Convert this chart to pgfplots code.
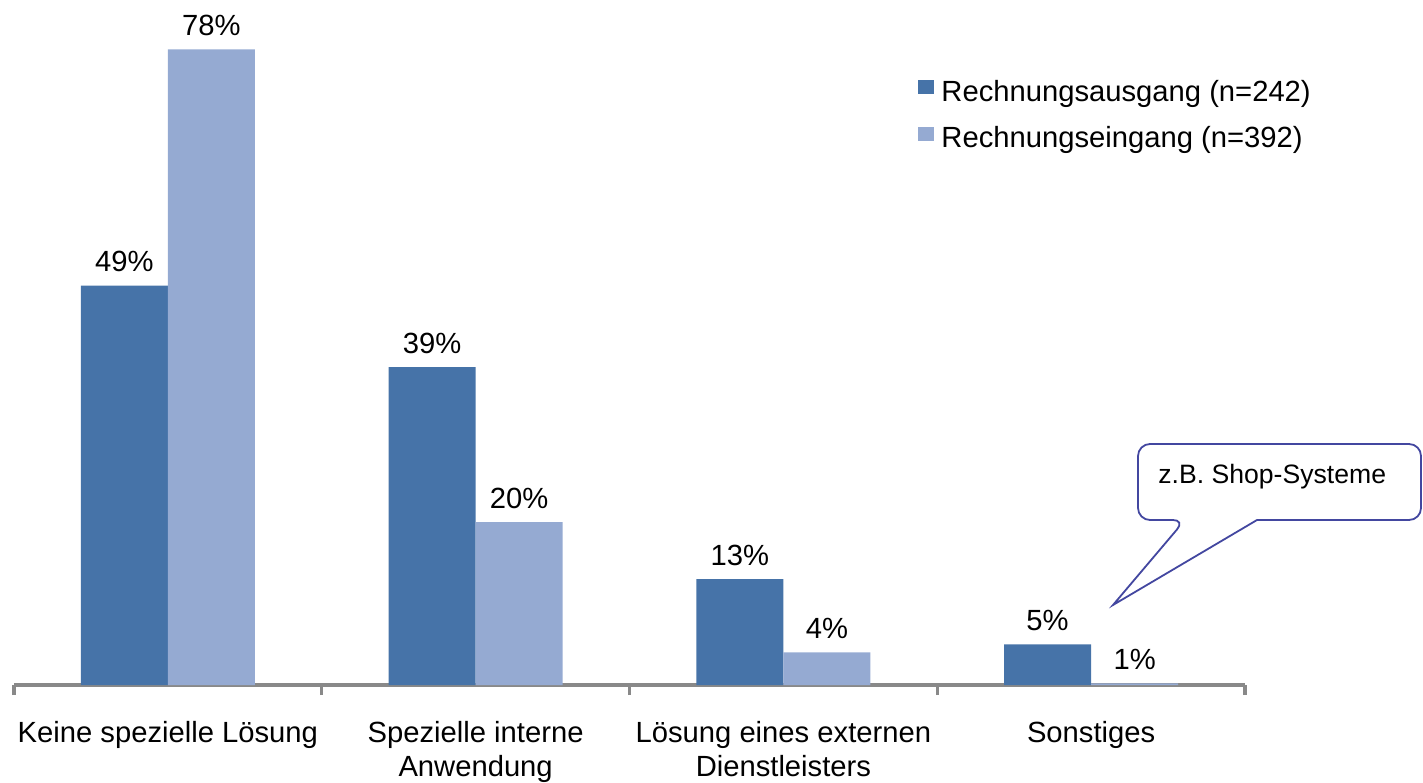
\documentclass[border=0pt]{standalone}
\usepackage{pgfplots}
\pgfplotsset{compat=1.18}
\usepackage{fontspec}
\setmainfont{Liberation Sans}
\definecolor{darkbar}{HTML}{4673A8}
\definecolor{lightbar}{HTML}{95AAD2}
\definecolor{axgrey}{HTML}{898989}
\definecolor{callout}{HTML}{4347A0}
\newcommand{\mainfont}{\fontsize{14.6pt}{17pt}\selectfont}
\begin{document}
\begin{tikzpicture}
\useasboundingbox (0,0) rectangle (711.5pt,391pt);
\begin{axis}[
  at={(7pt,48.5pt)}, anchor=south west,
  scale only axis, width=615.5pt, height=342.3pt,
  xmin=-0.5, xmax=3.5, ymin=0, ymax=84,
  ybar=0pt, bar width=0.283,
  axis x line*=bottom,
  axis y line=none,
  ytick=\empty,
  x axis line style={axgrey, line width=1.9pt, -},
  xtick={-0.5,0.5,1.5,2.5,3.5},
  xticklabels={},
  tick align=outside,
  major tick length=5pt,
  x tick style={axgrey, line width=1.6pt},
  extra x ticks={0,1,2,3},
  extra x tick labels={Keine spezielle Lösung, {Spezielle interne\\Anwendung}, {Lösung eines externen\\Dienstleisters}, Sonstiges},
  extra x tick style={major tick length=0pt, tick style={draw=none}},
  xticklabel style={font=\mainfont, align=center, yshift=-14.5pt},
  nodes near coords,
  point meta=explicit symbolic,
  every node near coord/.append style={font=\mainfont, text=black, yshift=3.3pt},
  legend style={draw=none, fill=none, at={(0.7344,0.8896)}, anchor=north west, inner sep=0pt, font=\mainfont, row sep=7pt},
  legend cell align=left,
  legend image code/.code={\fill[#1,draw=none] (0.5pt,-1pt) rectangle (8.5pt,6pt);},
  clip=false,
]
\addplot[fill=darkbar, draw=none] coordinates {(0,49) [49\%] (1,39) [39\%] (2,13) [13\%] (3,5) [5\%]};
\addplot[fill=lightbar, draw=none] coordinates {(0,78) [78\%] (1,20) [20\%] (2,4) [4\%] (3,0.2) [1\%]};
\legend{\hspace{1.5pt}Rechnungsausgang (n=242), \hspace{1.5pt}Rechnungseingang (n=392)}
\end{axis}
\begin{scope}[shift={(0,391pt)}, x=0.5pt, y=-0.5pt]
\draw[callout, line width=0.9pt, fill=white] (1185,520) -- (1113,605) -- (1257,520) [rounded corners=6pt] -- (1421,520) -- (1421,444) -- (1138,444) -- (1138,520) -- cycle;
\node[anchor=west, inner sep=0pt, font=\fontsize{13.3pt}{16pt}\selectfont] at (1158,477) {z.B. Shop-Systeme};
\end{scope}
\end{tikzpicture}
\end{document}
